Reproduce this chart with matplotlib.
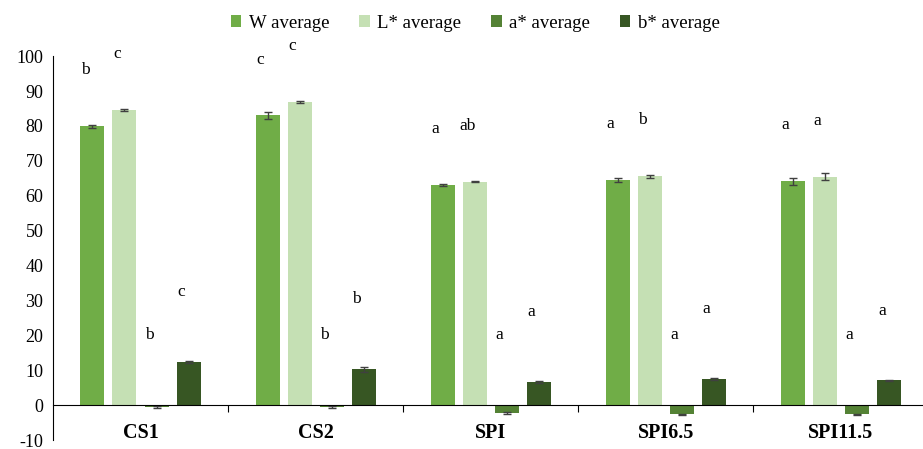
import numpy as np
import matplotlib
matplotlib.use("Agg")
import matplotlib.pyplot as plt

plt.rcParams['font.family'] = ['Liberation Serif', 'DejaVu Serif']
plt.rcParams['axes.unicode_minus'] = False

samples = ['CS1', 'CS2', 'SPI', 'SPI6.5', 'SPI11.5']
series = ['W average', 'L* average', 'a* average', 'b* average']

w_avg = [79.9, 83.0, 63.0, 64.5, 64.2]
l_avg = [84.5, 86.8, 64.0, 65.6, 65.5]
a_avg = [-0.5, -0.5, -2.3, -2.6, -2.6]
b_avg = [12.3, 10.3, 6.6, 7.5, 7.1]

w_err = [0.4, 1.0, 0.3, 0.5, 1.0]
l_err = [0.3, 0.3, 0.2, 0.4, 0.9]
a_err = [0.2, 0.2, 0.2, 0.1, 0.1]
b_err = [0.2, 0.7, 0.2, 0.2, 0.2]

# significance letters per series
w_letters = ['b', 'c', 'a', 'a', 'a']
l_letters = ['c', 'c', 'ab', 'b', 'a']
a_letters = ['b', 'b', 'a', 'a', 'a']
b_letters = ['c', 'b', 'a', 'a', 'a']

colors = ['#70AD47', '#C5E0B4', '#548235', '#375623']


def main():
    values = [w_avg, l_avg, a_avg, b_avg]
    errors = [w_err, l_err, a_err, b_err]
    letters = [w_letters, l_letters, a_letters, b_letters]
    offsets = [16, 16, 20, 20]

    fig = plt.figure(figsize=(9.23, 4.49), dpi=100)
    ax = fig.add_axes([0.0574, 0.02, 0.9426, 0.855])

    x = np.arange(len(samples))
    step = 0.183
    width = 0.137
    for i in range(4):
        pos = x + (i - 1.5) * step
        ax.bar(pos, values[i], width, color=colors[i], label=series[i],
               yerr=errors[i], error_kw=dict(ecolor='#404040', elinewidth=1,
                                             capsize=3, capthick=1))
        # letters sit a little left of the bar centre
        for k in range(len(samples)):
            ytxt = max(values[i][k], 0) + offsets[i]
            ax.text(pos[k] - 0.04, ytxt, letters[i][k], ha='center',
                    va='center', fontsize=12.5, color='black')

    ax.set_xlim(-0.5, 4.47)
    ax.set_ylim(-10, 100)
    ax.set_yticks(np.arange(-10, 101, 10))
    ax.tick_params(axis='y', length=0, labelsize=13, pad=7)

    ax.spines['top'].set_visible(False)
    ax.spines['right'].set_visible(False)
    ax.spines['bottom'].set_position(('data', 0))
    ax.spines['bottom'].set_color('black')
    ax.spines['left'].set_color('black')

    ax.set_xticks(np.arange(0.5, len(samples) - 0.5, 1))
    ax.set_xticklabels([])
    ax.tick_params(axis='x', which='major', direction='out', length=5)
    ax.set_xticks(x, minor=True)
    ax.set_xticklabels(samples, minor=True, fontsize=14.5, fontweight='bold')
    ax.tick_params(axis='x', which='minor', length=0, pad=13)

    fig.legend(loc='upper center', bbox_to_anchor=(0.515, 1.005), ncol=4,
               frameon=False, fontsize=13.5, handlelength=0.55,
               handleheight=0.55, handletextpad=0.4, columnspacing=1.6)

    fig.savefig('out.png', dpi=100)


if __name__ == "__main__":
    main()
